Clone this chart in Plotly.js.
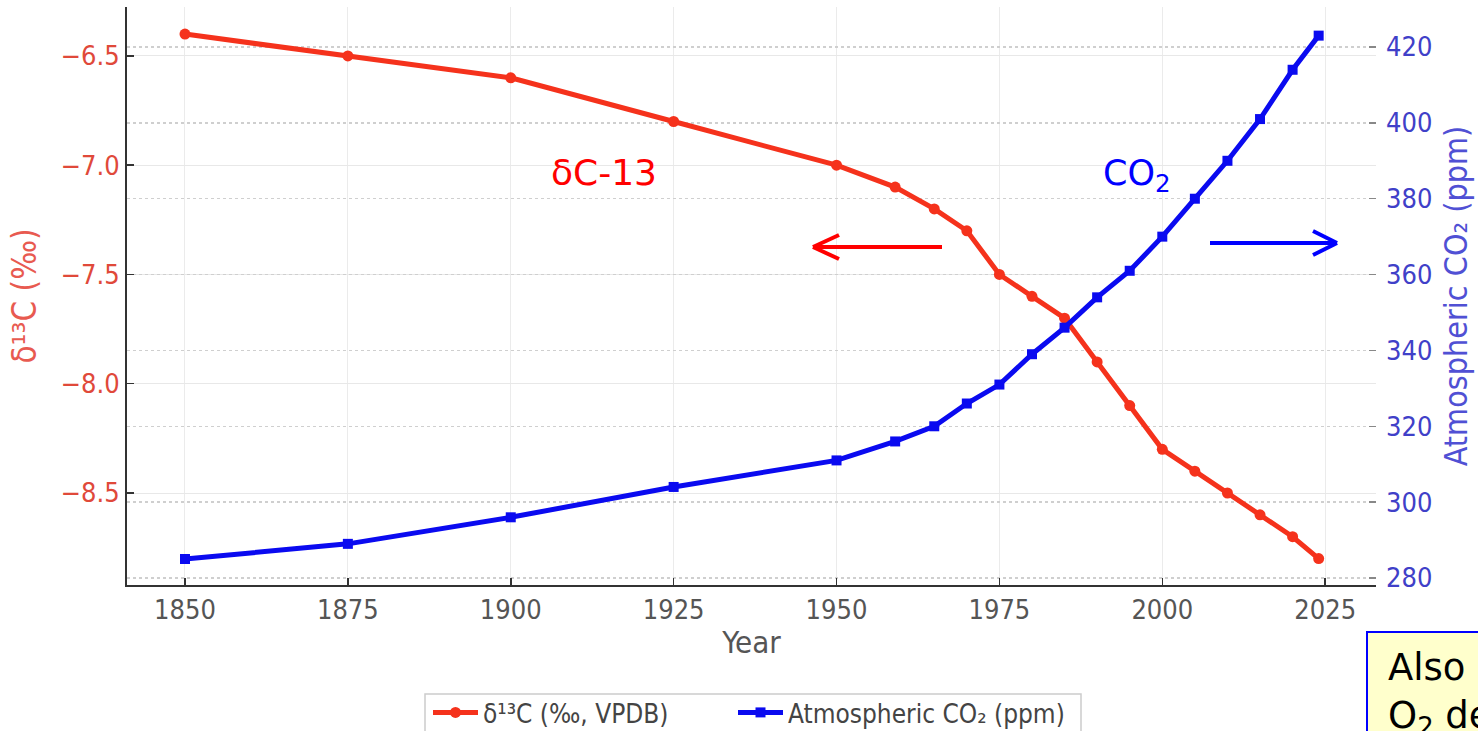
<!DOCTYPE html>
<html>
<head>
<meta charset="utf-8">
<script src="https://cdn.plot.ly/plotly-3.0.1.min.js"></script>
<style>html,body{margin:0;padding:0;background:#fff;overflow:hidden}#chart{width:1478px;height:731px}</style>
</head>
<body>
<div id="chart"></div>
<script>
// ---- data ----
const years = [1850,1875,1900,1925,1950,1959,1965,1970,1975,1980,1985,1990,1995,2000,2005,2010,2015,2020,2024];
const d13c  = [-6.4,-6.5,-6.6,-6.8,-7.0,-7.1,-7.2,-7.3,-7.5,-7.6,-7.7,-7.9,-8.1,-8.3,-8.4,-8.5,-8.6,-8.7,-8.8];
const co2   = [285,289,296,304,311,316,320,326,331,339,346,354,361,370,380,390,401,414,423];
const seriesNames = ["δ¹³C (‰, VPDB)", "Atmospheric CO₂ (ppm)"];
const axisTitles = {x: "Year", y: "δ¹³C (‰)", y2: "Atmospheric CO₂ (ppm)"};

const W = 1478, H = 731;
const mL = 127, mR = 102, mT = 7, mB = 146;
const pw = W - mL - mR, ph = H - mT - mB;
const PX = px => (px - mL) / pw;
const PY = py => (H - mB - py) / ph;

const FONT = "DejaVu Sans Condensed, DejaVu Sans, sans-serif";
const RED = "#f5321c", BLUE = "#0a0af0";

const traces = [
  {x: years, y: d13c, name: seriesNames[0], type: "scatter", mode: "lines+markers", legend: "legend",
   line: {color: RED, width: 5}, marker: {symbol: "circle", size: 11, color: RED}, yaxis: "y"},
  {x: years, y: co2, name: seriesNames[1], type: "scatter", mode: "lines+markers", legend: "legend2",
   line: {color: BLUE, width: 5}, marker: {symbol: "square", size: 10, color: BLUE}, yaxis: "y2"}
];

function line(x0,y0,x1,y1,color){
  return {type:"line", xref:"paper", yref:"paper", x0:PX(x0), y0:PY(y0), x1:PX(x1), y1:PY(y1),
          line:{color:color, width:4}};
}

const shapes = [
  line(942,247,814,247,"#ff0000"), line(813,247,839,235,"#ff0000"), line(813,247,839,259,"#ff0000"),
  line(1210,243,1336,243,"#0000ff"), line(1337,243,1313,231,"#0000ff"), line(1337,243,1313,255,"#0000ff"),
  {type:"rect", xref:"paper", yref:"paper", x0:PX(1367), y0:PY(632), x1:PX(1700), y1:PY(900),
   fillcolor:"#ffffcc", line:{color:"#0000ff", width:2}},
  {type:"rect", xref:"paper", yref:"paper", x0:PX(425), y0:PY(694), x1:PX(1081), y1:PY(760),
   fillcolor:"rgba(0,0,0,0)", line:{color:"#cccccc", width:1.5}}
];

const annotations = [
  {xref:"paper", yref:"paper", x:PX(604), y:PY(173), xanchor:"center", yanchor:"middle", text:"δC-13", showarrow:false,
   font:{family:"DejaVu Sans", size:36, color:"#ff0000"}},
  {xref:"paper", yref:"paper", x:PX(1137), y:PY(175), xanchor:"center", yanchor:"middle", text:"CO<sub>2</sub>", showarrow:false,
   font:{family:"DejaVu Sans", size:35, color:"#0000ff"}},
  {xref:"paper", yref:"paper", x:PX(1386), y:PY(644), xanchor:"left", yanchor:"top", align:"left",
   text:"Also see<br>O<sub>2</sub> decline", showarrow:false,
   font:{family:"DejaVu Sans", size:37, color:"#000000"}}
];

const legendBase = {orientation: "h", yanchor: "top", xanchor: "left", y: PY(689), itemwidth: 45,
                    borderwidth: 0, bgcolor: "rgba(0,0,0,0)",
                    font: {family: FONT, size: 26, color: "#444444"}};

const layout = {
  width: W, height: H,
  margin: {l: mL, r: mR, t: mT, b: mB, pad: 0, autoexpand: false},
  paper_bgcolor: "#ffffff", plot_bgcolor: "#ffffff",
  showlegend: true,
  legend: Object.assign({}, legendBase, {x: PX(428)}),
  legend2: Object.assign({}, legendBase, {x: PX(733)}),
  xaxis: {range: [1841.1, 2032.8], tick0: 1850, dtick: 25, showgrid: true, gridcolor: "#ebebeb", gridwidth: 1,
          zeroline: false, showline: true, linecolor: "#333333", linewidth: 2,
          ticks: "inside", ticklen: 7, tickwidth: 1.5, tickcolor: "#333333",
          tickfont: {family: FONT, size: 27, color: "#555555"},
          title: {text: axisTitles.x, font: {family: FONT, size: 31, color: "#555555"}, standoff: 7}},
  yaxis: {range: [-8.921, -6.276], tick0: -6.5, dtick: 0.5, tickformat: ".1f",
          showgrid: true, gridcolor: "#e8e8e8", gridwidth: 1, zeroline: false,
          showline: true, linecolor: "#333333", linewidth: 2,
          ticks: "inside", ticklen: 7, tickwidth: 1.5, tickcolor: "#333333",
          tickfont: {family: FONT, size: 27, color: "#e0493a"},
          title: {text: axisTitles.y, font: {family: FONT, size: 33, color: "#e85a50"}, standoff: 14}},
  yaxis2: {range: [278.15, 430.55], tick0: 280, dtick: 20, overlaying: "y", side: "right",
           showgrid: true, gridcolor: "#cfcfcf", gridwidth: 1.5, griddash: "dot", zeroline: false,
           showline: false, ticks: "inside", ticklen: 7, tickwidth: 1.5, tickcolor: "#888888",
           ticklabelstandoff: 9,
           tickfont: {family: FONT, size: 27, color: "#4040c8"},
           title: {text: axisTitles.y2, font: {family: FONT, size: 32, color: "#5050d4"}, standoff: 13}},
  shapes: shapes,
  annotations: annotations
};

Plotly.newPlot("chart", traces, layout, {displayModeBar: false, staticPlot: true});
</script>
</body>
</html>
